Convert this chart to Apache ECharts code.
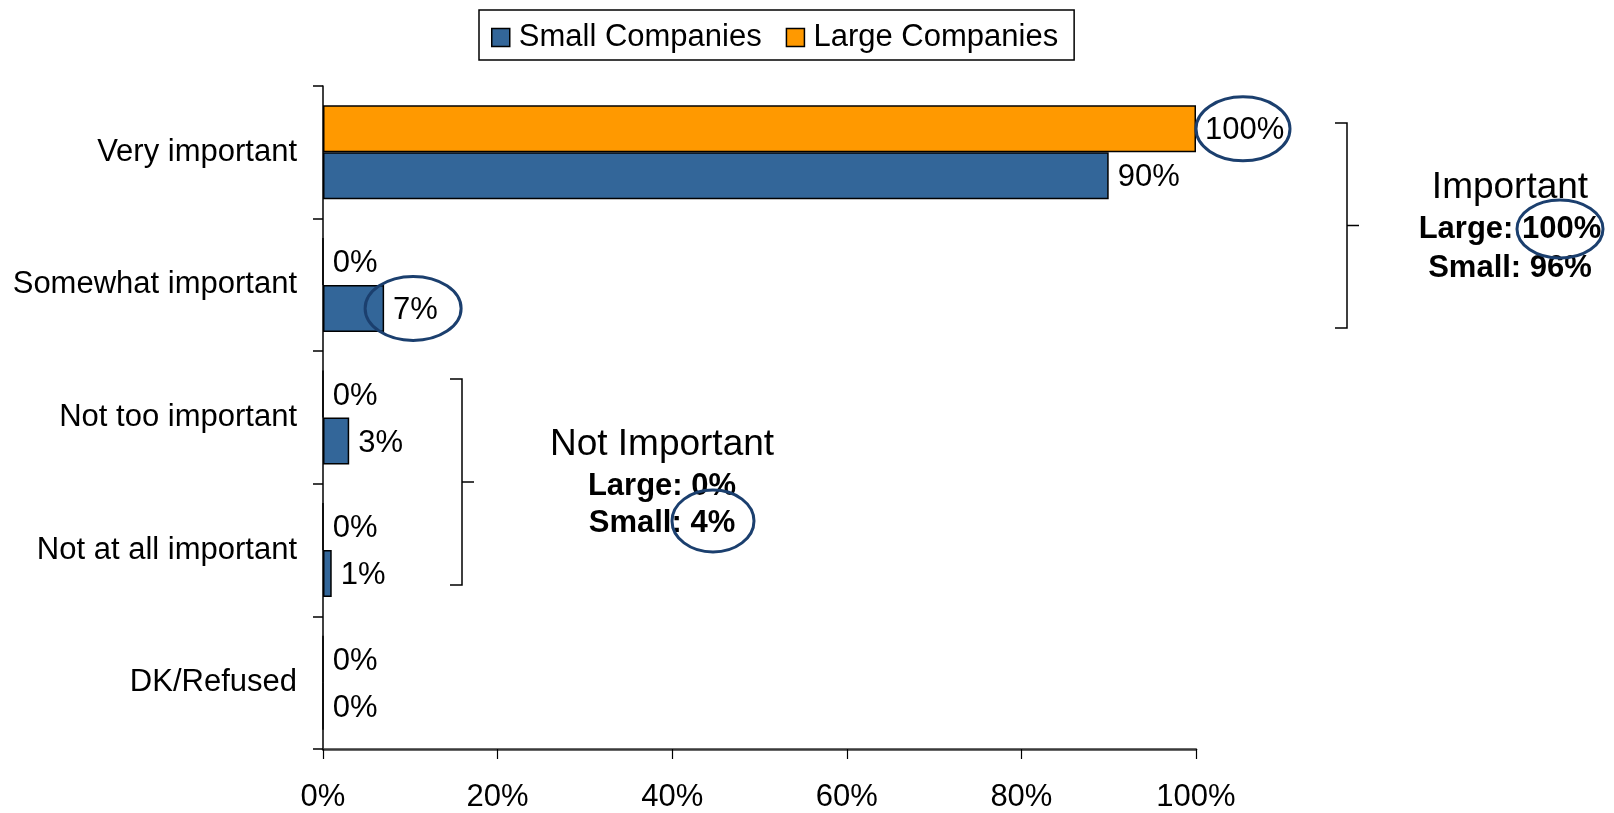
<!DOCTYPE html>
<html>
<head>
<meta charset="utf-8">
<script src="https://cdn.jsdelivr.net/npm/echarts@6/dist/echarts.min.js"></script>
<style>
  html, body { margin: 0; padding: 0; background: #fff; }
  #chart { width: 1614px; height: 813px; }
</style>
</head>
<body>
<div id="chart"></div>
<script>
// Importance ratings by company size (percent of respondents)
const categories = ['Very important', 'Somewhat important', 'Not too important', 'Not at all important', 'DK/Refused'];
const smallCompanies = [90, 7, 3, 1, 0];
const largeCompanies = [100, 0, 0, 0, 0];
const xTicks = [0, 20, 40, 60, 80, 100];

const FONT = 'Liberation Sans, Arial, sans-serif';
const BLUE = '#336699';
const ORANGE = '#FF9900';
const NAVY = '#1B3F6E';
const BAR_W = 47;

const chart = echarts.init(document.getElementById('chart'), null, { renderer: 'canvas' });

const valueLabel = {
  show: true,
  position: 'right',
  distance: 9,
  offset: [0, 2],
  formatter: '{c}%',
  fontFamily: FONT,
  fontSize: 31,
  color: '#000'
};

chart.setOption({
  animation: false,
  textStyle: { fontFamily: FONT },
  legend: {
    data: ['Small Companies', 'Large Companies'],
    left: 479,
    top: 10,
    padding: [12, 16, 7, 12],
    itemGap: 24,
    itemWidth: 18,
    itemHeight: 18,
    icon: 'rect',
    borderColor: '#000',
    borderWidth: 1.5,
    itemStyle: { borderColor: '#000', borderWidth: 1.5 },
    textStyle: { fontFamily: FONT, fontSize: 31, color: '#000', padding: [0, 0, 0, 4] }
  },
  grid: { left: 323, right: 418, top: 86, bottom: 60, containLabel: false },
  xAxis: {
    type: 'value',
    min: xTicks[0],
    max: xTicks[xTicks.length - 1],
    interval: xTicks[1] - xTicks[0],
    axisLine: { show: true, lineStyle: { color: '#3a3a3a', width: 2.5 } },
    axisTick: { show: true, length: 10, lineStyle: { color: '#000', width: 1.2 } },
    splitLine: { show: false },
    axisLabel: { formatter: '{value}%', fontFamily: FONT, fontSize: 31, color: '#000', margin: 33 }
  },
  yAxis: {
    type: 'category',
    inverse: true,
    data: categories,
    axisLine: { show: true, lineStyle: { color: '#000', width: 1.5 } },
    axisTick: { show: true, length: 10, lineStyle: { color: '#000', width: 1.5 } },
    axisLabel: { fontFamily: FONT, fontSize: 31, color: '#000', margin: 26, padding: [4, 0, 0, 0] }
  },
  series: [
    {
      name: 'Large Companies',
      type: 'bar',
      data: largeCompanies,
      barWidth: BAR_W,
      barGap: '0%',
      itemStyle: { color: ORANGE, borderColor: '#000', borderWidth: 1.5 },
      label: valueLabel
    },
    {
      name: 'Small Companies',
      type: 'bar',
      data: smallCompanies,
      barWidth: BAR_W,
      barGap: '0%',
      itemStyle: { color: BLUE, borderColor: '#000', borderWidth: 1.5 },
      label: valueLabel
    }
  ]
});

// Annotation layer: group brackets, summary text and highlight rings
function bracket(x, y1, y2, armLeft, armRight) {
  const yMid = (y1 + y2) / 2;
  const ls = { stroke: '#000', lineWidth: 1.5, fill: null };
  return [
    { type: 'polyline', shape: { points: [[x - armLeft, y1], [x, y1], [x, y2], [x - armLeft, y2]] }, style: ls },
    { type: 'line', shape: { x1: x, y1: yMid, x2: x + armRight, y2: yMid }, style: ls }
  ];
}
function txt(x, y, text, size, weight) {
  return {
    type: 'text', x: x, y: y,
    style: { text: text, fontFamily: FONT, fontSize: size, fontWeight: weight || 'normal',
             fill: '#000', align: 'center', verticalAlign: 'middle' }
  };
}
function ring(cx, cy, rx, ry) {
  return { type: 'ellipse', shape: { cx: cx, cy: cy, rx: rx, ry: ry },
           style: { stroke: NAVY, lineWidth: 3, fill: null }, z: 100 };
}

// Bar centre positions come from the axes
const bandCenter = i => chart.convertToPixel({ yAxisIndex: 0 }, categories[i]);
const xPix = v => chart.convertToPixel({ xAxisIndex: 0 }, v);
const largeY = i => bandCenter(i) - BAR_W / 2;
const smallY = i => bandCenter(i) + BAR_W / 2;

const importantTotal = { large: largeCompanies[0] + largeCompanies[1], small: 96 };
const notImportantTotal = { large: largeCompanies[2] + largeCompanies[3], small: 4 };

const graphics = []
  .concat(bracket(1347, 123, 328, 12, 12))
  .concat(bracket(462, 379, 585, 12, 12))
  .concat([
    txt(1510, 188, 'Important', 37),
    txt(1510, 229, 'Large: ' + importantTotal.large + '%', 31, 'bold'),
    txt(1510, 268, 'Small: ' + importantTotal.small + '%', 31, 'bold'),
    txt(662, 445, 'Not Important', 37),
    txt(662, 486, 'Large: ' + notImportantTotal.large + '%', 31, 'bold'),
    txt(662, 523, 'Small: ' + notImportantTotal.small + '%', 31, 'bold'),
    ring(xPix(largeCompanies[0]) + 47, largeY(0), 47, 32),
    ring(xPix(smallCompanies[1]) + 29, smallY(1), 48, 32),
    ring(1560, 229, 43, 29),
    ring(713, 521, 41, 31)
  ]);

chart.setOption({ graphic: graphics });
</script>
</body>
</html>
